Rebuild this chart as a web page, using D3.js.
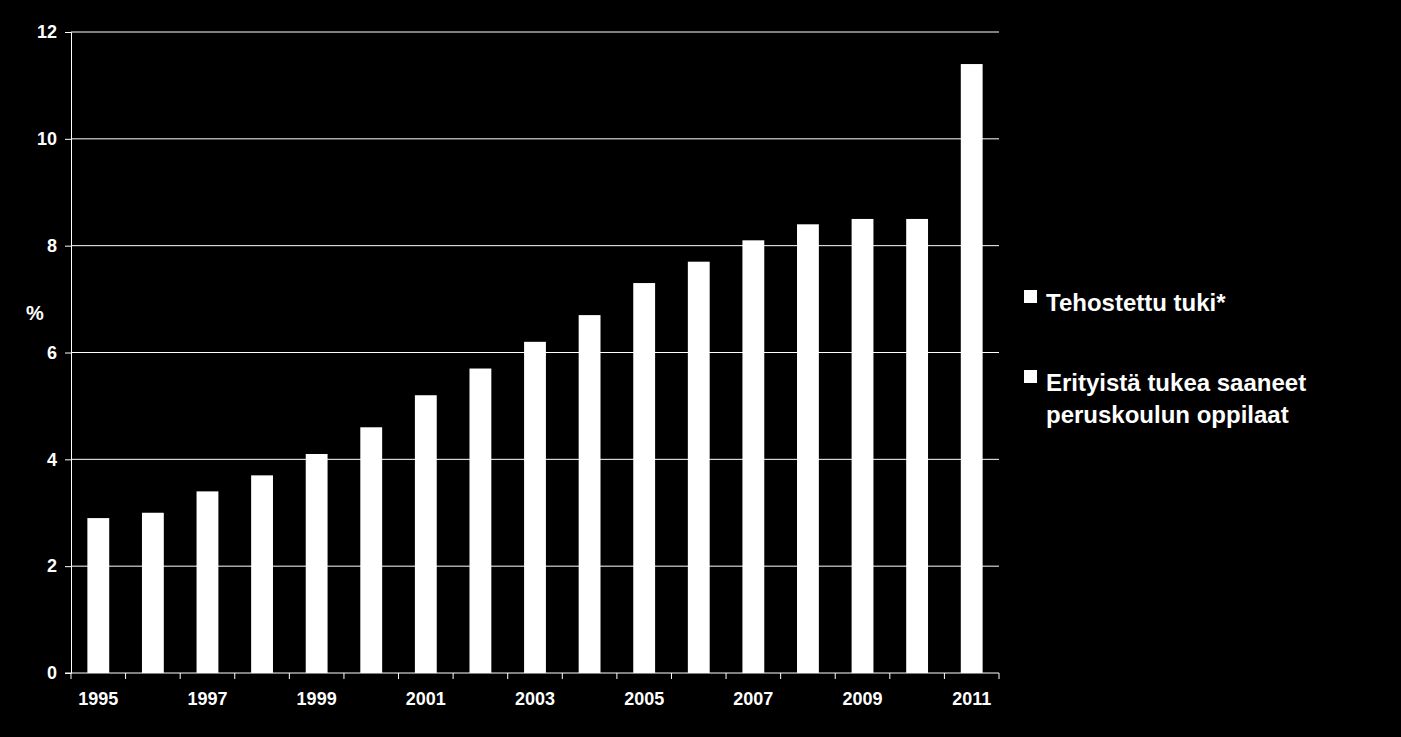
<!DOCTYPE html>
<html><head><meta charset="utf-8">
<script src="https://cdn.jsdelivr.net/npm/d3@7"></script>
<style>body{margin:0;background:#000;}svg{display:block;font-family:"Liberation Sans",Arial,sans-serif;font-weight:bold;}</style>
</head><body><div id="container"></div>
<script>
// Data
const years = ["1995","1996","1997","1998","1999","2000","2001","2002","2003","2004","2005","2006","2007","2008","2009","2010","2011"];
const erityista = [2.9,3.0,3.4,3.7,4.1,4.6,5.2,5.7,6.2,6.7,7.3,7.7,8.1,8.4,8.5,8.5,11.4];
const yTicks = [0,2,4,6,8,10,12];
const legendLabels = [["Tehostettu tuki*"],["Erityistä tukea saaneet","peruskoulun oppilaat"]];

const W = 1401, H = 737;
const margin = {left: 71, top: 32, right: 402, bottom: 64};
const width = W - margin.left - margin.right;
const height = H - margin.top - margin.bottom;

const svg = d3.select("#container").append("svg").attr("width", W).attr("height", H);
svg.append("rect").attr("width", W).attr("height", H).attr("fill", "#000");

const x = d3.scaleBand().domain(years).range([0, width]).paddingInner(0.6).paddingOuter(0.3);
const y = d3.scaleLinear().domain([0, 12]).range([height, 0]);

const g = svg.append("g").attr("transform", `translate(${margin.left},${margin.top})`);

// Gridlines
g.selectAll("line.grid").data(yTicks.filter(d => d > 0)).join("line")
    .attr("x1", 0).attr("x2", width)
    .attr("y1", d => y(d)).attr("y2", d => y(d))
    .attr("stroke", "#fff").attr("stroke-width", 1);

// Bars
g.selectAll("rect.bar").data(erityista).join("rect")
    .attr("x", (d, i) => x(years[i]))
    .attr("y", d => y(d))
    .attr("width", x.bandwidth())
    .attr("height", d => height - y(d))
    .attr("fill", "#fff");

// Y axis
const yAxis = g.append("g").call(d3.axisLeft(y).tickValues(yTicks).tickSize(6).tickPadding(8));
yAxis.selectAll("line").attr("stroke", "#fff");
yAxis.select(".domain").attr("stroke", "#fff").attr("d", `M-6,0.5H0.5V${height}H-6`);
yAxis.selectAll("text").attr("fill", "#fff").style("font-size", "18px").style("font-weight", "bold").style("font-family", "Liberation Sans, Arial, sans-serif");

// X axis: ticks at band boundaries
const step = x.step();
const x0 = x(years[0]) - x.paddingOuter() * step + (x.paddingOuter() * step - (step - x.bandwidth()) / 2);
const xAxis = g.append("g").attr("transform", `translate(0,${height})`);
xAxis.append("line").attr("x1", 0).attr("x2", width).attr("stroke", "#fff");
const bounds = d3.range(years.length + 1).map(i => i * width / years.length);
xAxis.selectAll("line.t").data(bounds).join("line")
    .attr("x1", d => d).attr("x2", d => d).attr("y1", 0).attr("y2", 6).attr("stroke", "#fff");
xAxis.selectAll("text").data(years.filter((d, i) => i % 2 === 0)).join("text")
    .attr("x", d => x(d) + x.bandwidth() / 2)
    .attr("y", 32)
    .attr("text-anchor", "middle")
    .attr("fill", "#fff").style("font-size", "18px")
    .text(d => d);

// Y label
svg.append("text").attr("x", 35).attr("y", 320).attr("text-anchor", "middle")
    .attr("fill", "#fff").style("font-size", "20px").text("%");

// Legend
const legendY = [302, 382];
legendLabels.forEach((lines, i) => {
    svg.append("rect").attr("x", 1024).attr("y", legendY[i] - 12).attr("width", 13).attr("height", 13).attr("fill", "#fff");
    lines.forEach((t, j) => {
        svg.append("text").attr("x", 1046).attr("y", legendY[i] + 9 + j * 32)
            .attr("fill", "#fff").style("font-size", "24px").text(t);
    });
});
</script></body></html>
